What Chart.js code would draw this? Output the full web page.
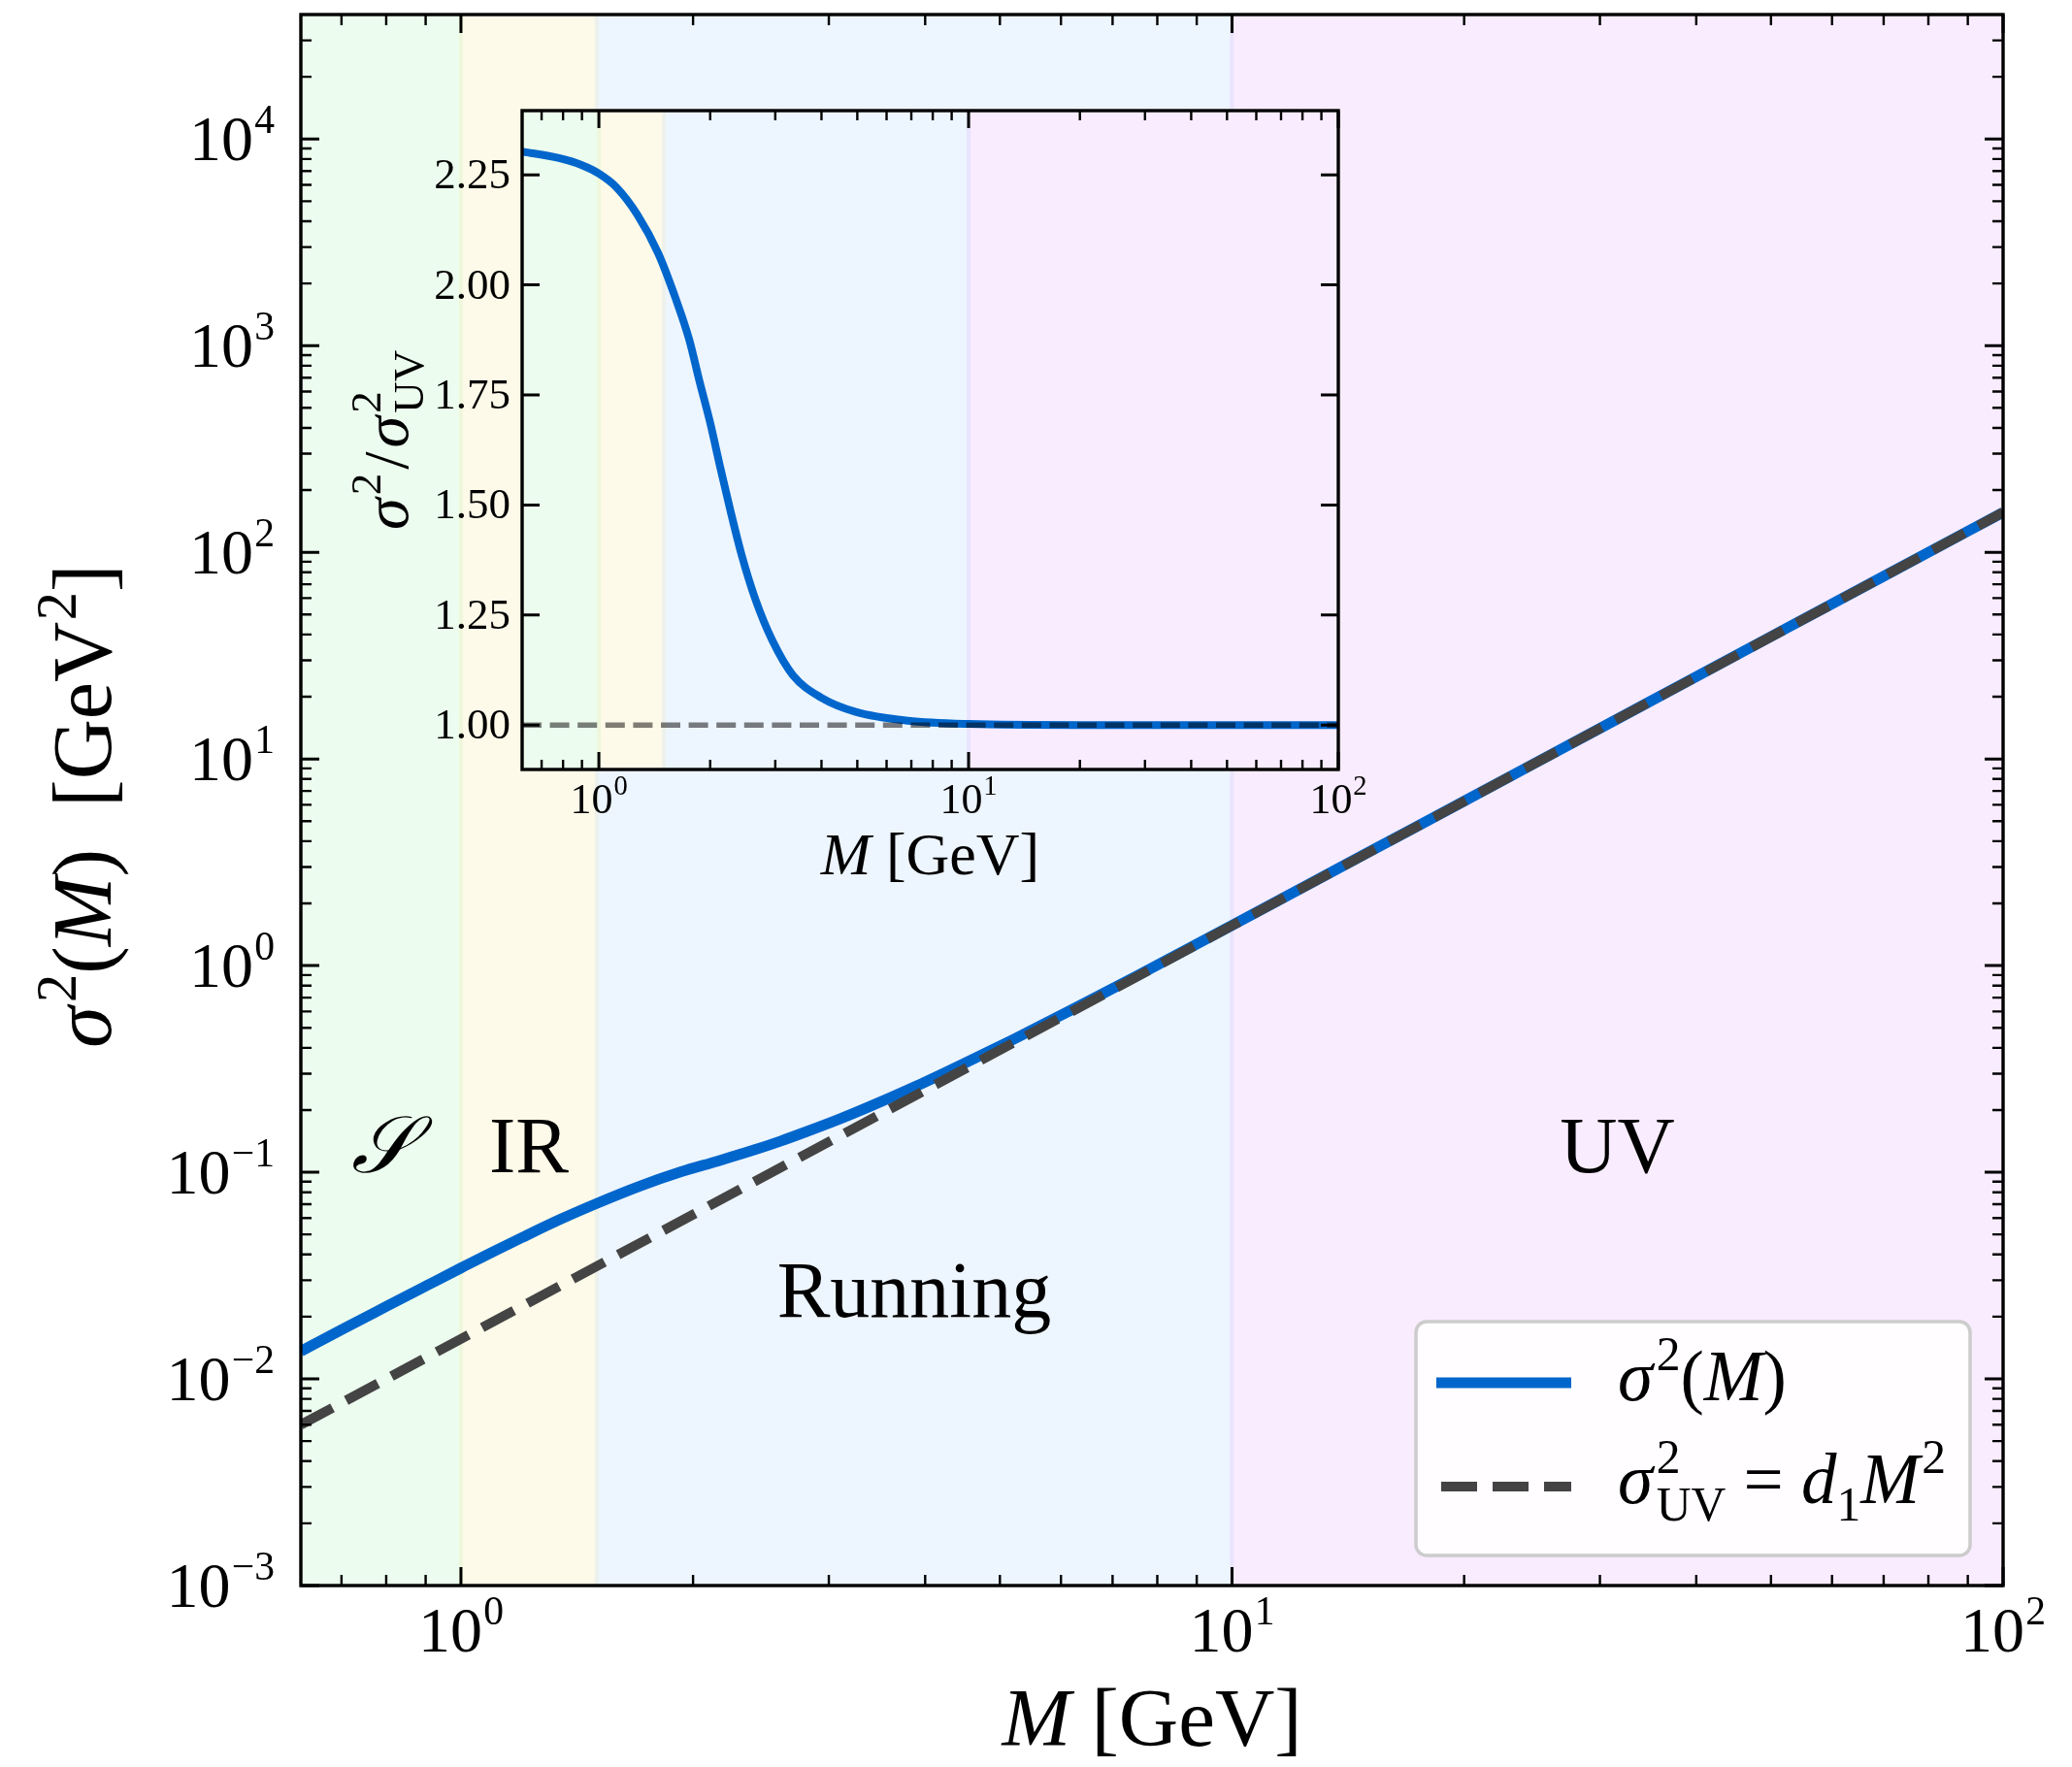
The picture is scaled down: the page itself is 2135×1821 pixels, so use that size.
<!DOCTYPE html>
<html>
<head>
<meta charset="utf-8">
<script src="https://cdn.jsdelivr.net/npm/chart.js@4.4.1/dist/chart.umd.min.js"></script>
<style>
  html, body { margin: 0; padding: 0; background: #ffffff; }
  #wrap { position: relative; width: 2135px; height: 1821px; }
  #wrap canvas { position: absolute; left: 0; top: 0; }
</style>
</head>
<body>
<div id="wrap">
  <canvas id="mainChart" width="2135" height="1821"></canvas>
  <canvas id="insetChart" width="2135" height="1821"></canvas>
</div>
<script>
// ---- data -------------------------------------------------------------
// full variance sigma^2(M) in GeV^2
const massMain = [0.62, 0.7, 0.8, 0.9, 1.0, 1.1, 1.2, 1.35, 1.5, 1.7, 1.93, 2.15, 2.4, 2.6, 2.8, 3.1, 3.4, 3.9, 4.4, 5.2, 6.2, 7.5, 10, 15, 20, 30, 50, 70, 100];
const sigma2Main = [0.0136, 0.0173, 0.0224, 0.0281, 0.0344, 0.0412, 0.0483, 0.0595, 0.0706, 0.0852, 0.1005, 0.1131, 0.1282, 0.1417, 0.1567, 0.1811, 0.2089, 0.2617, 0.3236, 0.4385, 0.612, 0.886, 1.565, 3.52, 6.25, 14.07, 39.1, 76.6, 156];

// UV power law sigma^2_UV = d1 M^2
const massUV = [0.62, 1, 10, 100];
const sigma2UV = [0.0060, 0.0156, 1.56, 156];

// ratio sigma^2 / sigma^2_UV
const massRatio = [0.62, 0.78, 0.9, 1.0, 1.115, 1.27, 1.445, 1.61, 1.755, 1.87, 2.0, 2.13, 2.275, 2.43, 2.65, 2.95, 3.35, 4.0, 4.95, 6.85, 10, 20, 50, 100];
const ratioValues = [2.303, 2.288, 2.272, 2.253, 2.222, 2.160, 2.073, 1.971, 1.876, 1.782, 1.687, 1.585, 1.483, 1.388, 1.286, 1.191, 1.113, 1.062, 1.030, 1.010, 1.0025, 1.0, 1.0, 1.0];
const massUnity = [0.62, 100];
const unityValues = [1, 1];

// regimes along M
const regionEdges = [0.62, 1.0, 1.5, 10, 100];
const regionNames = ['\u{1D4AE}', 'IR', 'Running', 'UV'];
const regionLabelMass = [0.79, 1.225, 3.87, 31.6];
const regionLabelSigma2 = [0.1, 0.1, 0.02, 0.1];
const regionFill = ['rgba(160,240,170,0.2)', 'rgba(250,230,145,0.2)', 'rgba(165,205,250,0.2)', 'rgba(225,160,250,0.2)'];

// axis ranges and ticks
const massRange = [0.62, 100];
const sigma2Range = [1e-3, 4e4];
const ratioRange = [0.899, 2.396];
const sigma2Decades = [-3, -2, -1, 0, 1, 2, 3, 4];
const massDecades = [0, 1, 2];
const ratioTicks = ['1.00', '1.25', '1.50', '1.75', '2.00', '2.25'];

// ---- styling ----------------------------------------------------------
const FONT = '"Liberation Serif", "DejaVu Serif", serif';
const BLUE = '#0066cc';
const DARK = '#444444';

function fontStr(size, italic) {
  return (italic ? 'italic ' : '') + size.toFixed(1) + 'px ' + FONT;
}

// lay out a run of text pieces with superscripts / subscripts
function layoutRich(ctx, segs, size, opt) {
  const o = Object.assign({ supScale: 0.68, supRaise: 0.42, subScale: 0.68, subDrop: 0.24 }, opt || {});
  let x = 0, prevStart = 0;
  const items = [];
  for (const s of segs) {
    const sz = s.sup ? size * o.supScale : (s.sub ? size * o.subScale : size);
    const f = fontStr(sz, s.it);
    ctx.font = f;
    const w = ctx.measureText(s.t).width;
    const sx = (s.stack ? prevStart : x) + (s.dx || 0) * size;
    const dy = s.sup ? -o.supRaise * size : (s.sub ? o.subDrop * size : 0);
    items.push({ t: s.t, f: f, x: sx, dy: dy });
    const end = sx + w;
    x = s.stack ? Math.max(x, end) : end;
    prevStart = sx;
  }
  return { items: items, width: x };
}

function drawRich(ctx, segs, x, y, size, align, opt) {
  const lay = layoutRich(ctx, segs, size, opt);
  let x0 = x;
  if (align === 'center') x0 = x - lay.width / 2;
  else if (align === 'right') x0 = x - lay.width;
  ctx.save();
  ctx.fillStyle = '#000';
  ctx.textBaseline = 'alphabetic';
  ctx.textAlign = 'left';
  for (const it of lay.items) {
    ctx.font = it.f;
    ctx.fillText(it.t, x0 + it.x, y + it.dy);
  }
  ctx.restore();
}

function decadeLabel(k) {
  return [{ t: '10' }, { t: k < 0 ? '\u2212' + (-k) : String(k), sup: true, dx: 0.02 }];
}

function logMinors(lo, hi) {
  const out = [];
  for (let e = Math.floor(Math.log10(lo)); e <= Math.ceil(Math.log10(hi)); e++) {
    for (let m = 2; m <= 9; m++) {
      const v = m * Math.pow(10, e);
      if (v > lo && v < hi) out.push(v);
    }
  }
  return out;
}

function tickLines(ctx, area, scale, values, len, width, horizontalAxis) {
  ctx.save();
  ctx.strokeStyle = '#000';
  ctx.lineWidth = width;
  ctx.lineCap = 'butt';
  ctx.beginPath();
  for (const v of values) {
    const p = scale.getPixelForValue(v);
    if (horizontalAxis) {
      if (p < area.left - 0.5 || p > area.right + 0.5) continue;
      ctx.moveTo(p, area.bottom); ctx.lineTo(p, area.bottom - len);
      ctx.moveTo(p, area.top); ctx.lineTo(p, area.top + len);
    } else {
      if (p < area.top - 0.5 || p > area.bottom + 0.5) continue;
      ctx.moveTo(area.left, p); ctx.lineTo(area.left + len, p);
      ctx.moveTo(area.right, p); ctx.lineTo(area.right - len, p);
    }
  }
  ctx.stroke();
  ctx.restore();
}

// white base plus the four translucent regime bands
function drawBands(ctx, area, xScale) {
  ctx.save();
  ctx.beginPath();
  ctx.rect(area.left, area.top, area.right - area.left, area.bottom - area.top);
  ctx.clip();
  ctx.fillStyle = '#ffffff';
  ctx.fillRect(area.left, area.top, area.right - area.left, area.bottom - area.top);
  for (let i = 0; i < regionFill.length; i++) {
    const a = xScale.getPixelForValue(regionEdges[i]) - 2;
    const b = xScale.getPixelForValue(regionEdges[i + 1]) + 2;
    ctx.fillStyle = regionFill[i];
    ctx.fillRect(a, area.top, b - a, area.bottom - area.top);
  }
  ctx.restore();
}

function drawFrame(ctx, area, lw) {
  ctx.save();
  ctx.strokeStyle = '#000';
  ctx.lineWidth = lw;
  ctx.strokeRect(area.left, area.top, area.right - area.left, area.bottom - area.top);
  ctx.restore();
}

function toPoints(xs, ys) {
  return xs.map((x, i) => ({ x: x, y: ys[i] }));
}

// ---- main panel ---------------------------------------------------------
const mainPlugin = {
  id: 'mainDecor',
  beforeDraw(chart) {
    const ctx = chart.ctx;
    ctx.save();
    ctx.fillStyle = '#ffffff';
    ctx.fillRect(0, 0, chart.width, chart.height);
    ctx.restore();
  },
  beforeDatasetsDraw(chart) {
    drawBands(chart.ctx, chart.chartArea, chart.scales.x);
  },
  afterDatasetsDraw(chart) {
    const ctx = chart.ctx, area = chart.chartArea;
    const xs = chart.scales.x, ys = chart.scales.y;

    // ticks, pointing inwards on all four sides
    tickLines(ctx, area, xs, massDecades.map(k => Math.pow(10, k)), 19, 3, true);
    tickLines(ctx, area, xs, logMinors(massRange[0], massRange[1]), 11, 2.4, true);
    tickLines(ctx, area, ys, sigma2Decades.map(k => Math.pow(10, k)), 19, 3, false);
    tickLines(ctx, area, ys, logMinors(sigma2Range[0], sigma2Range[1]), 11, 2.4, false);
    drawFrame(ctx, area, 3.4);

    // tick labels
    for (const k of sigma2Decades) {
      const py = ys.getPixelForValue(Math.pow(10, k));
      drawRich(ctx, decadeLabel(k), area.left - 27, py + 22, 66, 'right', { supScale: 0.63, supRaise: 0.42 });
    }
    for (const k of massDecades) {
      const px = xs.getPixelForValue(Math.pow(10, k));
      drawRich(ctx, decadeLabel(k), px, 1702, 66, 'center', { supScale: 0.63, supRaise: 0.42 });
    }

    // axis titles
    drawRich(ctx, [{ t: 'M', it: true }, { t: ' [GeV]' }], (area.left + area.right) / 2, 1799, 85, 'center');
    ctx.save();
    ctx.translate(114, (area.top + area.bottom) / 2 + 6);
    ctx.rotate(-Math.PI / 2);
    drawRich(ctx, [{ t: '\u03C3', it: true }, { t: '2', sup: true, dx: 0.05 }, { t: '(' }, { t: 'M', it: true }, { t: ')  [GeV' }, { t: '2', sup: true, dx: 0.02 }, { t: ']' }], 0, 0, 86, 'center');
    ctx.restore();

    // regime labels
    for (let i = 0; i < regionNames.length; i++) {
      const px = xs.getPixelForValue(regionLabelMass[i]);
      const py = ys.getPixelForValue(regionLabelSigma2[i]);
      drawRich(ctx, [{ t: regionNames[i], it: i === 0 }], px, py, 82, 'center');
    }

    // legend
    const L = { x0: 1459, y0: 1362, x1: 2030, y1: 1603 };
    ctx.save();
    ctx.beginPath();
    ctx.roundRect(L.x0, L.y0, L.x1 - L.x0, L.y1 - L.y0, 11);
    ctx.fillStyle = 'rgba(255,255,255,0.9)';
    ctx.fill();
    ctx.strokeStyle = '#cccccc';
    ctx.lineWidth = 3.5;
    ctx.stroke();
    ctx.lineCap = 'butt';
    ctx.strokeStyle = BLUE;
    ctx.lineWidth = 11;
    ctx.beginPath(); ctx.moveTo(1480, 1425); ctx.lineTo(1619, 1425); ctx.stroke();
    ctx.strokeStyle = DARK;
    ctx.lineWidth = 10;
    ctx.setLineDash([37, 16]);
    ctx.beginPath(); ctx.moveTo(1485, 1532); ctx.lineTo(1619, 1532); ctx.stroke();
    ctx.restore();
    drawRich(ctx, [{ t: '\u03C3', it: true }, { t: '2', sup: true, dx: 0.05 }, { t: '(' }, { t: 'M', it: true }, { t: ')' }], 1667, 1443, 73, 'left');
    drawRich(ctx, [{ t: '\u03C3', it: true }, { t: '2', sup: true, dx: 0.05 }, { t: 'UV', sub: true, stack: true }, { t: ' = ' }, { t: 'd', it: true }, { t: '1', sub: true }, { t: 'M', it: true }, { t: '2', sup: true, dx: 0.03 }], 1667, 1549, 73, 'left');
  }
};

new Chart(document.getElementById('mainChart'), {
  type: 'line',
  data: {
    datasets: [
      {
        label: 'sigma2_UV',
        data: toPoints(massUV, sigma2UV),
        borderColor: DARK,
        borderWidth: 10,
        borderDash: [37, 16],
        pointRadius: 0,
        fill: false,
        clip: 0,
        order: 0
      },
      {
        label: 'sigma2',
        data: toPoints(massMain, sigma2Main),
        borderColor: BLUE,
        borderWidth: 11,
        pointRadius: 0,
        fill: false,
        cubicInterpolationMode: 'monotone',
        clip: 0,
        order: 1
      }
    ]
  },
  options: {
    responsive: false,
    animation: false,
    devicePixelRatio: 1,
    layout: { padding: { left: 310, top: 15, right: 71, bottom: 187 } },
    scales: {
      x: { type: 'logarithmic', min: massRange[0], max: massRange[1], bounds: 'data', display: false },
      y: { type: 'logarithmic', min: sigma2Range[0], max: sigma2Range[1], bounds: 'data', display: false }
    },
    plugins: { legend: { display: false }, tooltip: { enabled: false }, title: { display: false } },
    events: []
  },
  plugins: [mainPlugin]
});

// ---- inset panel ------------------------------------------------------
const insetPlugin = {
  id: 'insetDecor',
  beforeDatasetsDraw(chart) {
    drawBands(chart.ctx, chart.chartArea, chart.scales.x);
  },
  afterDatasetsDraw(chart) {
    const ctx = chart.ctx, area = chart.chartArea;
    const xs = chart.scales.x, ys = chart.scales.y;
    const ratioTickValues = ratioTicks.map(Number);

    tickLines(ctx, area, xs, massDecades.map(k => Math.pow(10, k)), 18, 3, true);
    tickLines(ctx, area, xs, logMinors(massRange[0], massRange[1]), 10, 2.4, true);
    tickLines(ctx, area, ys, ratioTickValues, 18, 3, false);
    drawFrame(ctx, area, 3.4);

    ratioTicks.forEach((lab, i) => {
      const py = ys.getPixelForValue(ratioTickValues[i]);
      drawRich(ctx, [{ t: lab }], area.left - 12, py + 14, 45, 'right');
    });
    for (const k of massDecades) {
      const px = xs.getPixelForValue(Math.pow(10, k));
      drawRich(ctx, decadeLabel(k), px, 838, 44, 'center', { supScale: 0.65, supRaise: 0.43 });
    }

    drawRich(ctx, [{ t: 'M', it: true }, { t: ' [GeV]' }], (area.left + area.right) / 2, 901, 62, 'center');
    ctx.save();
    ctx.translate(420, (area.top + area.bottom) / 2);
    ctx.rotate(-Math.PI / 2);
    drawRich(ctx, [{ t: '\u03C3', it: true }, { t: '2', sup: true, dx: 0.05 }, { t: '/', dx: 0.06 }, { t: '\u03C3', it: true, dx: 0.06 }, { t: '2', sup: true, dx: 0.05 }, { t: 'UV', sub: true, stack: true }], 0, 0, 66, 'center');
    ctx.restore();
  }
};

new Chart(document.getElementById('insetChart'), {
  type: 'line',
  data: {
    datasets: [
      {
        label: 'unity',
        data: toPoints(massUnity, unityValues),
        borderColor: 'rgba(0,0,0,0.5)',
        borderWidth: 5.4,
        borderDash: [20, 8.6],
        pointRadius: 0,
        fill: false,
        clip: 0,
        order: 0
      },
      {
        label: 'ratio',
        data: toPoints(massRatio, ratioValues),
        borderColor: BLUE,
        borderWidth: 8,
        pointRadius: 0,
        fill: false,
        cubicInterpolationMode: 'monotone',
        clip: 0,
        order: 1
      }
    ]
  },
  options: {
    responsive: false,
    animation: false,
    devicePixelRatio: 1,
    layout: { padding: { left: 538, top: 114, right: 756, bottom: 1028 } },
    scales: {
      x: { type: 'logarithmic', min: massRange[0], max: massRange[1], bounds: 'data', display: false },
      y: { type: 'linear', min: ratioRange[0], max: ratioRange[1], bounds: 'data', display: false }
    },
    plugins: { legend: { display: false }, tooltip: { enabled: false }, title: { display: false } },
    events: []
  },
  plugins: [insetPlugin]
});
</script>
</body>
</html>
